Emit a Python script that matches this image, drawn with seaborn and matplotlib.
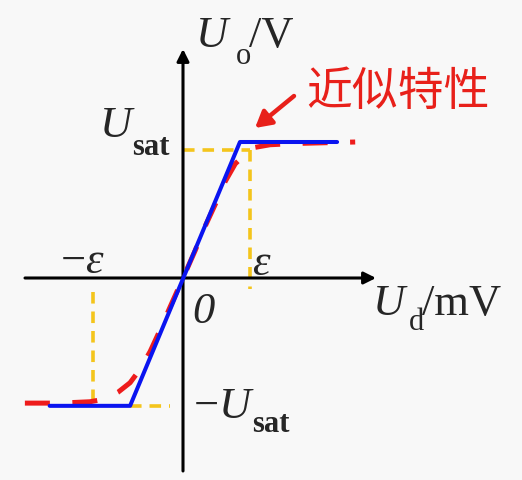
import matplotlib
matplotlib.use("Agg")
import matplotlib.pyplot as plt
import seaborn as sns
import numpy as np

# units: x in multiples of epsilon, y in multiples of U_sat
ideal_x = [-1.99, -0.79, 0.85, 2.30]
ideal_y = [-0.94, -0.94, 1.00, 1.00]

real_x = [-2.36, -1.84, -1.39, -1.16, -0.97, -0.79, -0.64, -0.49, -0.34, -0.19,
          0.0, 0.18, 0.33, 0.48, 0.63, 0.78, 0.93, 1.07, 1.30, 1.75, 2.57]
real_y = [-0.92, -0.92, -0.91, -0.89, -0.84, -0.77, -0.67, -0.54, -0.38, -0.21,
          0.0, 0.20, 0.38, 0.54, 0.71, 0.84, 0.91, 0.96, 0.98, 0.99, 1.00]

eps_pos = 1.0
eps_neg = -1.34
sat_guide = 0.94

sns.set_theme(style="white")
plt.rcParams["font.family"] = ["Liberation Serif", "Noto Sans CJK SC", "DejaVu Sans"]
plt.rcParams["mathtext.fontset"] = "custom"
plt.rcParams["mathtext.rm"] = "Liberation Serif"
plt.rcParams["mathtext.it"] = "Liberation Serif:italic"
plt.rcParams["mathtext.bf"] = "Liberation Serif:bold"

# pixel -> data helpers for layout (origin at pixel 183, 279)
def px(x, y):
    return (x - 183) / 67.0, (279 - y) / 136.0

fig = plt.figure(figsize=(5.22, 4.81), dpi=100)
fig.patch.set_facecolor("#f8f8f8")
ax = fig.add_axes([0, 0, 1, 1])
ax.set_facecolor("#f8f8f8")
x0, y0 = px(0, 481)
x1, y1 = px(522, 0)
ax.set_xlim(x0, x1)
ax.set_ylim(y0, y1)
ax.axis("off")

# axes with arrows
arrow_kw = dict(arrowstyle="-|>,head_length=0.6,head_width=0.3", lw=2.2,
                color="black", shrinkA=0, shrinkB=0)
ax.annotate("", xy=px(376, 279), xytext=px(25, 279), arrowprops=arrow_kw, zorder=2)
ax.annotate("", xy=px(183, 50), xytext=px(183, 472), arrowprops=arrow_kw, zorder=2)

# yellow guide lines
yel = "#f4c51c"
yk = dict(color=yel, lw=2.6, linestyle=(0, (3.2, 2.2)), zorder=1)
ax.plot([0, eps_pos], [sat_guide, sat_guide], **yk)
ax.plot([eps_pos, eps_pos], [sat_guide, -0.08], **yk)
ax.plot([eps_neg, eps_neg], [-0.10, -0.92], **yk)
ax.plot([ideal_x[1], -0.19], [ideal_y[1], ideal_y[1]], **yk)

# curves
sns.lineplot(x=real_x, y=real_y, ax=ax, color="#ee1c1c", lw=3.6,
             linestyle=(0, (5, 4.5)), sort=False, zorder=3)
sns.lineplot(x=ideal_x, y=ideal_y, ax=ax, color="#0a14f0", lw=2.9,
             sort=False, zorder=4)

# labels (main symbol and subscript placed separately)
fs = 32
sub = 22

def lbl(x, y, s, size=fs, **kw):
    ax.text(*px(x, y), s, fontsize=size, ha="left", va="baseline", **kw)

lbl(195, 47, r"$U$")
lbl(236, 64, "o", size=sub)
lbl(249, 47, "/V")

lbl(99, 137, r"$U$")
lbl(132, 155, "sat", size=sub, weight="bold")

lbl(60, 273, r"$-\varepsilon$")
lbl(252, 275, r"$\varepsilon$")
lbl(192, 323, "0", style="italic")

lbl(372, 315, r"$U$")
lbl(409, 330, "d", size=sub)
lbl(422, 315, "/mV")

lbl(193, 418, r"$-U$")
lbl(252, 432, "sat", size=sub, weight="bold")

ax.text(*px(306, 92), "近似特性", fontsize=33, color="#e8201a", ha="left", va="center",
        family=["Noto Sans CJK SC", "DejaVu Sans"])
ax.annotate("", xy=px(255, 129), xytext=px(294, 97),
            arrowprops=dict(arrowstyle="-|>,head_length=0.8,head_width=0.45", lw=3.2,
                            color="#e8201a", shrinkA=0, shrinkB=0))

fig.savefig("out.png", dpi=100, facecolor=fig.get_facecolor())
